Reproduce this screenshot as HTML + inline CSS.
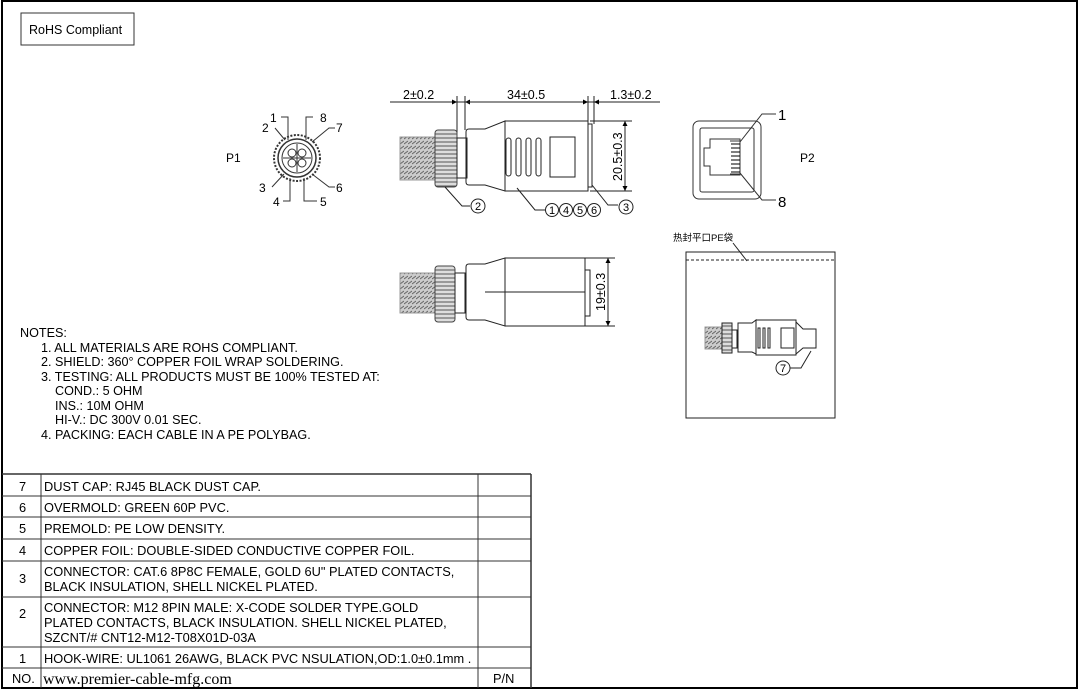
<!DOCTYPE html>
<html><head><meta charset="utf-8"><style>
body{margin:0;background:#fff}
svg{display:block}
text{font-family:"Liberation Sans","Noto Sans CJK SC",sans-serif;fill:#000}
</style></head><body>
<svg width="1079" height="689" viewBox="0 0 1079 689" xmlns="http://www.w3.org/2000/svg">
<defs>
<marker id="ar" viewBox="0 0 10 10" refX="10" refY="5" markerWidth="7" markerHeight="5" orient="auto-start-reverse"><path d="M0,0 L10,5 L0,10 z" fill="#000"/></marker>
<pattern id="thr" width="4" height="5" patternUnits="userSpaceOnUse"><rect width="4" height="5" fill="#ccc"/><path d="M0,4 L4,1" stroke="#666" stroke-width="1"/></pattern>
<pattern id="knl" width="3" height="4" patternUnits="userSpaceOnUse"><rect width="3" height="4" fill="#ddd"/><path d="M0,2 H3" stroke="#555" stroke-width="1"/></pattern>
</defs>
<rect x="2" y="1" width="1075" height="687" fill="none" stroke="#000" stroke-width="2"/>
<rect x="21" y="13" width="113" height="32" fill="none" stroke="#333" stroke-width="1"/>
<text x="29" y="34" font-size="12.5">RoHS Compliant</text>

<!-- P1 -->
<text x="226" y="162" font-size="12">P1</text>
<g stroke="#333" fill="none">
<circle cx="297" cy="158" r="23" stroke-width="2" stroke-dasharray="2 1.5"/>
<circle cx="297" cy="158" r="19" stroke-width="1.5"/>
<circle cx="297" cy="158" r="15"/>
<circle cx="292" cy="153" r="4"/><circle cx="302" cy="153" r="4"/><circle cx="292" cy="163" r="4"/><circle cx="302" cy="163" r="4"/>
<path d="M283,158 H311 M297,144 V172"/>
<path d="M281,117 H288 V140 M313,117 H306 V140 M275,128 L285,140 M335,128 H329 L312,142 M272,187 L284,174 M335,187 H329 L312,174 M283,201 H290 V178 M317,201 H304 V178"/>
</g>
<text x="270" y="122" font-size="12">1</text><text x="320" y="122" font-size="12">8</text>
<text x="262" y="132" font-size="12">2</text><text x="336" y="132" font-size="12">7</text>
<text x="259" y="192" font-size="12">3</text><text x="336" y="192" font-size="12">6</text>
<text x="273" y="206" font-size="12">4</text><text x="320" y="206" font-size="12">5</text>

<!-- top connector view -->
<g stroke="#222" fill="none" stroke-width="1">
<line x1="390" y1="102" x2="660" y2="102"/>
<line x1="442" y1="102" x2="457" y2="102" marker-end="url(#ar)"/>
<line x1="465" y1="102" x2="480" y2="102" marker-start="url(#ar)"/>
<line x1="465" y1="102" x2="588" y2="102" marker-end="url(#ar)"/>
<line x1="594" y1="102" x2="608" y2="102" marker-start="url(#ar)"/>
<line x1="457" y1="96" x2="457" y2="150"/><line x1="465" y1="96" x2="465" y2="130"/>
<line x1="588" y1="96" x2="588" y2="122"/><line x1="594" y1="96" x2="594" y2="124"/>
<rect x="400" y="137" width="35" height="43" fill="url(#thr)" stroke="#999"/>
<rect x="435" y="130" width="22" height="57" rx="3" fill="url(#knl)" stroke="#444"/>
<rect x="457" y="138" width="10" height="40"/>
<path d="M469,129 H485 L505,121 V191 L485,185 H469 Q466,185 466,182 V132 Q466,129 469,129 Z"/>
<rect x="505" y="121" width="83" height="70"/>
<rect x="588" y="124" width="4" height="63"/>
<rect x="506" y="138" width="5" height="38" rx="2.5"/><rect x="516" y="138" width="5" height="38" rx="2.5"/>
<rect x="526" y="138" width="5" height="38" rx="2.5"/><rect x="536" y="138" width="5" height="38" rx="2.5"/>
<rect x="550" y="137" width="25" height="40"/>
<line x1="590" y1="121" x2="632" y2="121"/><line x1="590" y1="191" x2="632" y2="191"/>
<line x1="625" y1="121" x2="625" y2="191" marker-start="url(#ar)" marker-end="url(#ar)"/>
<path d="M445,187 L462,206 H470 M517,188 L535,210 H546 M592,185 L608,205 H618" />
<circle cx="478" cy="206" r="7"/>
<circle cx="552" cy="210" r="6.5"/><circle cx="566" cy="210" r="6.5"/><circle cx="580" cy="210" r="6.5"/><circle cx="594" cy="210" r="6.5"/>
<circle cx="626" cy="207" r="7"/>
</g>
<text x="403" y="99" font-size="12.5">2±0.2</text>
<text x="507" y="99" font-size="12.5">34±0.5</text>
<text x="610" y="99" font-size="12.5">1.3±0.2</text>
<text transform="translate(622,181) rotate(-90)" font-size="12.5">20.5±0.3</text>
<g font-size="11" text-anchor="middle"><text x="478" y="210">2</text><text x="552" y="214">1</text><text x="566" y="214">4</text><text x="580" y="214">5</text><text x="594" y="214">6</text><text x="626" y="211">3</text></g>

<!-- side view -->
<g stroke="#222" fill="none">
<rect x="400" y="273" width="35" height="40" fill="url(#thr)" stroke="#999"/>
<rect x="435" y="266" width="20" height="56" rx="3" fill="url(#knl)" stroke="#444"/>
<rect x="455" y="273" width="10" height="40"/>
<path d="M469,264 H485 L505,258 V326 L485,320 H469 Q466,320 466,317 V267 Q466,264 469,264 Z"/>
<rect x="505" y="258" width="80" height="68"/>
<rect x="585" y="270" width="5" height="46"/>
<line x1="485" y1="292" x2="585" y2="292"/>
<line x1="585" y1="258" x2="615" y2="258"/><line x1="585" y1="326" x2="615" y2="326"/>
<line x1="608" y1="258" x2="608" y2="326" marker-start="url(#ar)" marker-end="url(#ar)"/>
</g>
<text transform="translate(605,311) rotate(-90)" font-size="12.5">19±0.3</text>

<!-- P2 -->
<g stroke="#333" fill="none">
<rect x="693" y="121" width="68" height="78" rx="6"/>
<rect x="700" y="128" width="54" height="64" rx="2"/>
<path d="M710,139 H740 V175 H710 V166 H704 V148 H710 Z"/>
<path d="M730,141 H740 V174 H730" />
<g stroke="#000"><line x1="731" y1="144" x2="740" y2="144"/><line x1="731" y1="148" x2="740" y2="148"/><line x1="731" y1="152" x2="740" y2="152"/><line x1="731" y1="156" x2="740" y2="156"/><line x1="731" y1="160" x2="740" y2="160"/><line x1="731" y1="164" x2="740" y2="164"/><line x1="731" y1="168" x2="740" y2="168"/><line x1="731" y1="172" x2="740" y2="172"/></g>
<path d="M740,142 L762,114 H776 M740,173 L762,200 H776"/>
</g>
<text x="778" y="120" font-size="15">1</text>
<text x="778" y="207" font-size="15">8</text>
<text x="800" y="162" font-size="12">P2</text>

<!-- bag -->
<text x="673" y="241" font-size="9.5">热封平口PE袋</text>
<g stroke="#222" fill="none">
<line x1="733" y1="243" x2="747" y2="261"/>
<rect x="686" y="252" width="149" height="166"/>
<line x1="686" y1="260" x2="835" y2="260" stroke-dasharray="3 2"/>
<rect x="705" y="327" width="18" height="22" fill="url(#thr)" stroke="#999"/>
<rect x="722" y="323" width="10" height="30" fill="url(#knl)"/>
<rect x="732" y="330" width="5" height="18"/>
<path d="M738,323 H752 L756,320 V354 L752,352 H738 Z"/>
<rect x="756" y="320" width="40" height="35"/>
<rect x="758" y="328" width="2" height="20"/><rect x="763" y="328" width="2" height="20"/><rect x="768" y="328" width="2" height="20"/>
<path d="M796,322 L803,329 H816 V348 H803 L796,354"/>
<rect x="781" y="328" width="13" height="20"/>
<path d="M811,351 L801,368 H790"/>
<circle cx="783" cy="368" r="7"/>
</g>
<text x="783" y="372" font-size="11" text-anchor="middle">7</text>

<!-- notes -->
<g font-size="12.6">
<text x="20" y="337">NOTES:</text>
<text x="41" y="352">1. ALL MATERIALS ARE ROHS COMPLIANT.</text>
<text x="41" y="366">2. SHIELD: 360° COPPER FOIL WRAP SOLDERING.</text>
<text x="41" y="381">3. TESTING: ALL PRODUCTS MUST BE 100% TESTED AT:</text>
<text x="55" y="395">COND.: 5 OHM</text>
<text x="55" y="410">INS.: 10M OHM</text>
<text x="55" y="424">HI-V.: DC 300V 0.01 SEC.</text>
<text x="41" y="439">4. PACKING: EACH CABLE IN A PE POLYBAG.</text>
</g>

<!-- table -->
<g stroke="#333" fill="none">
<line x1="2" y1="474" x2="531" y2="474" stroke-width="1.5"/>
<line x1="2" y1="496" x2="531" y2="496"/><line x1="2" y1="517" x2="531" y2="517"/>
<line x1="2" y1="539" x2="531" y2="539"/><line x1="2" y1="561" x2="531" y2="561"/>
<line x1="2" y1="597" x2="531" y2="597"/><line x1="2" y1="647" x2="531" y2="647"/>
<line x1="2" y1="668" x2="531" y2="668"/>
<line x1="531" y1="474" x2="531" y2="688" stroke-width="1.5"/>
<line x1="41" y1="474" x2="41" y2="688"/><line x1="478" y1="474" x2="478" y2="688"/>
</g>
<g font-size="12.8">
<text x="19" y="491">7</text><text x="44" y="491">DUST CAP: RJ45 BLACK DUST CAP.</text>
<text x="19" y="512">6</text><text x="44" y="512">OVERMOLD: GREEN 60P PVC.</text>
<text x="19" y="533">5</text><text x="44" y="533">PREMOLD: PE LOW DENSITY.</text>
<text x="19" y="555">4</text><text x="44" y="555">COPPER FOIL: DOUBLE-SIDED CONDUCTIVE COPPER FOIL.</text>
<text x="19" y="583">3</text><text x="44" y="576">CONNECTOR: CAT.6 8P8C FEMALE, GOLD 6U" PLATED CONTACTS,</text><text x="44" y="591">BLACK INSULATION, SHELL NICKEL PLATED.</text>
<text x="19" y="618">2</text><text x="44" y="612">CONNECTOR: M12 8PIN MALE: X-CODE SOLDER TYPE.GOLD</text><text x="44" y="627">PLATED CONTACTS, BLACK INSULATION. SHELL NICKEL PLATED,</text><text x="44" y="642">SZCNT/# CNT12-M12-T08X01D-03A</text>
<text x="19" y="663">1</text><text x="44" y="663">HOOK-WIRE: UL1061 26AWG, BLACK PVC NSULATION,OD:1.0±0.1mm .</text>
<text x="12" y="683">NO.</text><text x="493" y="683">P/N</text>
</g>
<text x="43" y="684" font-size="16" style="font-family:'Liberation Serif',serif">www.premier-cable-mfg.com</text>
</svg>
</body></html>
